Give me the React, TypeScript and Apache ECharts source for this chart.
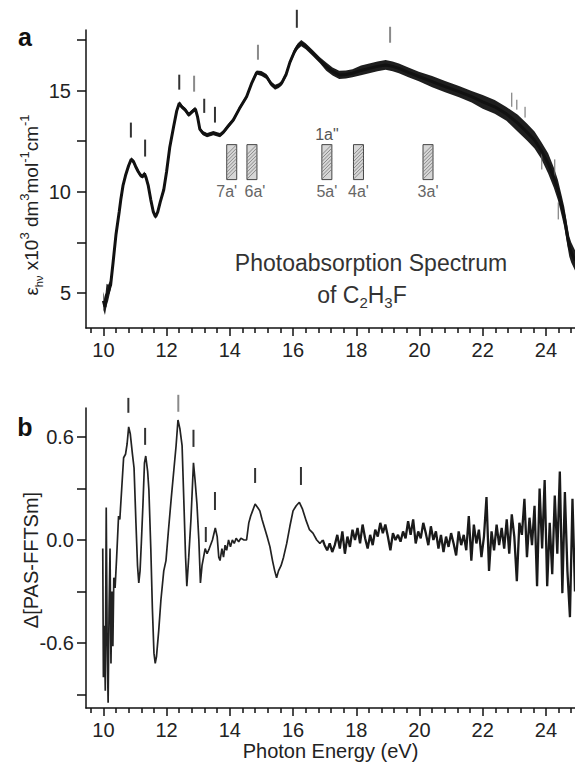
import React, { useEffect, useRef } from "react";
import * as echarts from "echarts";

// ---------- DATA ----------
// Panel a: [photon energy eV, epsilon x10^3, half-width of noise band]
const topSpectrum: number[][] = [
  [10.0, 4.6, 0.45], [10.05, 4.3, 0.4], [10.1, 4.9, 0.55], [10.15, 5.0, 0.4], [10.23, 5.4, 0.25],
  [10.3, 6.4, 0.12], [10.4, 7.9, 0.1], [10.5, 9.0, 0.1], [10.55, 9.6, 0.1], [10.62, 10.3, 0.1],
  [10.7, 10.8, 0.1], [10.8, 11.3, 0.1], [10.88, 11.6, 0.1], [10.95, 11.5, 0.1], [11.02, 11.25, 0.1],
  [11.1, 11.0, 0.1], [11.18, 10.8, 0.1], [11.25, 10.75, 0.1], [11.3, 10.9, 0.1], [11.35, 10.7, 0.1],
  [11.42, 10.3, 0.1], [11.5, 9.6, 0.1], [11.58, 9.0, 0.1], [11.65, 8.75, 0.1], [11.72, 9.0, 0.1],
  [11.8, 9.5, 0.1], [11.91, 10.1, 0.1], [12.0, 11.0, 0.1], [12.1, 12.2, 0.1], [12.22, 13.2, 0.1],
  [12.32, 14.0, 0.1], [12.4, 14.38, 0.1], [12.48, 14.2, 0.1], [12.59, 14.05, 0.1], [12.7, 13.8, 0.1],
  [12.8, 13.95, 0.1], [12.91, 14.1, 0.1], [12.98, 13.7, 0.1], [13.05, 13.1, 0.1], [13.15, 12.9, 0.1],
  [13.28, 12.8, 0.1], [13.38, 12.85, 0.1], [13.48, 12.9, 0.1], [13.58, 12.85, 0.1], [13.69, 12.8, 0.1],
  [13.8, 12.95, 0.1], [13.95, 13.25, 0.1], [14.11, 13.55, 0.1], [14.3, 14.1, 0.1], [14.53, 14.7, 0.1],
  [14.7, 15.4, 0.1], [14.85, 15.9, 0.1], [15.0, 15.85, 0.12], [15.16, 15.7, 0.12], [15.3, 15.35, 0.12],
  [15.43, 15.17, 0.12], [15.55, 15.25, 0.12], [15.64, 15.37, 0.12], [15.78, 15.8, 0.12], [15.9, 16.4, 0.12],
  [16.05, 16.95, 0.15], [16.15, 17.2, 0.15], [16.26, 17.35, 0.15], [16.4, 17.2, 0.15], [16.63, 16.85, 0.15],
  [16.85, 16.5, 0.15], [17.05, 16.19, 0.2], [17.25, 15.95, 0.2], [17.46, 15.78, 0.2], [17.67, 15.8, 0.2],
  [17.88, 15.86, 0.2], [18.15, 16.0, 0.24], [18.41, 16.1, 0.24], [18.67, 16.2, 0.24], [18.93, 16.27, 0.24],
  [19.15, 16.2, 0.24], [19.35, 16.1, 0.24], [19.65, 15.9, 0.24], [19.98, 15.7, 0.24], [20.4, 15.45, 0.28],
  [20.81, 15.2, 0.28], [21.25, 14.95, 0.28], [21.65, 14.7, 0.28], [22.0, 14.45, 0.34], [22.38, 14.2, 0.34],
  [22.75, 13.85, 0.34], [23.11, 13.39, 0.42], [23.4, 12.95, 0.42], [23.64, 12.56, 0.42], [23.85, 12.05, 0.42],
  [24.07, 11.4, 0.5], [24.25, 10.7, 0.5], [24.38, 10.08, 0.5], [24.5, 9.3, 0.5], [24.58, 8.76, 0.5],
  [24.66, 8.0, 0.5], [24.74, 7.28, 0.5], [24.8, 7.0, 0.5], [24.92, 6.6, 0.5],
];

// Panel a: isolated noise spikes [energy, low, high]
const topSpikes: number[][] = [
  [22.92, 14.2, 14.9], [23.08, 14.06, 14.55], [23.34, 13.67, 14.2], [23.87, 11.1, 11.94],
  [24.28, 10.6, 11.6], [24.39, 8.63, 9.47],
];

// Panel a: peak markers [energy, low, high]
const topMarkers: number[][] = [
  [10.87, 12.68, 13.42], [11.32, 11.74, 12.58], [12.4, 15.05, 15.79], [12.87, 14.95, 15.74],
  [13.19, 13.9, 14.6], [13.53, 13.42, 14.2], [14.89, 16.53, 17.27], [16.12, 18.11, 19.0],
  [19.07, 17.37, 18.16],
];

// Panel a: ionisation energy boxes [energy, low, high]
const orbitalBoxes: number[][] = [
  [14.06, 10.6, 12.33], [14.7, 10.6, 12.33], [17.07, 10.6, 12.33], [18.07, 10.6, 12.33], [20.27, 10.6, 12.33],
];
const orbitalLabels = ["7a'", "6a'", "5a'", "4a'", "3a'"];
const orbitalUpperLabels = ["", "", "1a\"", "", ""];

// Panel b: difference spectrum [energy, value]
const bottomSpectrum: number[][] = [
  [9.98, -0.05], [10.0, -0.8], [10.03, -0.5], [10.06, -0.88], [10.09, 0.19], [10.12, -0.6],
  [10.15, -0.95], [10.18, -0.4], [10.21, -0.05], [10.24, -0.72], [10.27, -0.3], [10.3, -0.62],
  [10.33, -0.22], [10.37, -0.28], [10.42, -0.1], [10.48, 0.14], [10.52, 0.12], [10.58, 0.3],
  [10.64, 0.48], [10.7, 0.5], [10.75, 0.56], [10.8, 0.66], [10.85, 0.62], [10.92, 0.5],
  [10.97, 0.42], [11.03, 0.1], [11.08, -0.15], [11.12, -0.25], [11.16, -0.18], [11.2, -0.02],
  [11.25, 0.2], [11.3, 0.45], [11.34, 0.49], [11.4, 0.4], [11.44, 0.29], [11.5, -0.05],
  [11.55, -0.4], [11.6, -0.66], [11.64, -0.72], [11.68, -0.68], [11.75, -0.53], [11.82, -0.35],
  [11.91, -0.18], [11.98, -0.12], [12.06, 0.06], [12.15, 0.25], [12.23, 0.41], [12.3, 0.55],
  [12.36, 0.7], [12.42, 0.65], [12.49, 0.55], [12.55, 0.2], [12.6, -0.1], [12.64, -0.27],
  [12.7, -0.1], [12.77, 0.12], [12.85, 0.45], [12.9, 0.35], [12.96, 0.21], [13.02, 0.0],
  [13.07, -0.25], [13.12, -0.15], [13.17, -0.1], [13.22, -0.05], [13.28, -0.08], [13.35, -0.05],
  [13.45, 0.0], [13.54, 0.07], [13.6, 0.02], [13.65, -0.1], [13.69, -0.12], [13.75, -0.05],
  [13.8, -0.1], [13.85, -0.03], [13.9, -0.06], [13.96, 0.0], [14.02, -0.04], [14.08, 0.0],
  [14.14, -0.02], [14.2, 0.01], [14.28, -0.01], [14.35, 0.01], [14.45, 0.0], [14.53, 0.0],
  [14.6, 0.1], [14.66, 0.14], [14.72, 0.17], [14.8, 0.21], [14.88, 0.19], [14.95, 0.17],
  [15.02, 0.12], [15.1, 0.07], [15.18, 0.02], [15.27, -0.04], [15.35, -0.12], [15.42, -0.18],
  [15.48, -0.22], [15.54, -0.18], [15.62, -0.15], [15.7, -0.1], [15.8, -0.02], [15.9, 0.08],
  [16.0, 0.17], [16.1, 0.2], [16.2, 0.22], [16.3, 0.18], [16.42, 0.11], [16.52, 0.06],
  [16.63, 0.04], [16.75, 0.0], [16.85, -0.02], [16.94, 0.0],
];

// Panel b: noisy tail [energy, value]
const bottomNoise: number[][] = [
  [16.94, 0.0],
  [17.0, -0.03], [17.08, -0.06], [17.16, -0.02], [17.24, -0.07], [17.32, -0.03], [17.4, 0.03],
  [17.48, -0.05], [17.56, 0.05], [17.64, -0.08], [17.72, 0.02], [17.8, -0.04], [17.88, 0.06],
  [17.96, 0.0], [18.04, 0.07], [18.12, -0.02], [18.2, 0.09], [18.28, 0.01], [18.36, -0.05],
  [18.44, 0.03], [18.52, -0.03], [18.6, 0.06], [18.68, 0.02], [18.76, 0.1], [18.84, 0.04],
  [18.92, 0.09], [19.0, 0.02], [19.08, -0.06], [19.16, 0.04], [19.24, 0.0], [19.32, 0.03],
  [19.4, -0.01], [19.48, 0.05], [19.56, 0.01], [19.64, 0.11], [19.72, 0.03], [19.8, 0.12],
  [19.88, -0.02], [19.96, 0.05], [20.04, 0.01], [20.12, 0.1], [20.2, 0.04], [20.28, -0.03],
  [20.36, 0.08], [20.44, 0.0], [20.52, 0.05], [20.6, -0.05], [20.68, 0.03], [20.76, -0.07],
  [20.84, 0.02], [20.92, -0.04], [21.0, 0.04], [21.08, -0.02], [21.16, -0.09], [21.24, 0.05],
  [21.32, -0.03], [21.4, 0.03], [21.48, -0.06], [21.56, 0.14], [21.64, -0.12], [21.72, 0.09],
  [21.8, -0.02], [21.88, 0.06], [21.96, -0.1], [22.04, 0.02], [22.12, 0.25], [22.2, -0.18],
  [22.28, 0.05], [22.36, -0.06], [22.44, 0.09], [22.52, -0.03], [22.6, 0.07], [22.68, -0.05],
  [22.76, 0.12], [22.84, -0.08], [22.92, 0.15], [23.0, 0.02], [23.08, -0.24], [23.16, 0.1],
  [23.24, 0.03], [23.32, 0.24], [23.4, -0.1], [23.48, 0.13], [23.56, -0.03], [23.64, 0.2],
  [23.72, -0.27], [23.8, 0.3], [23.88, -0.05], [23.96, 0.35], [24.04, -0.27], [24.12, 0.1],
  [24.2, -0.2], [24.28, 0.26], [24.36, -0.08], [24.44, 0.4], [24.52, -0.31], [24.6, 0.28],
  [24.68, -0.18], [24.76, -0.45], [24.84, 0.24], [24.92, -0.3],
];

// Panel b: peak markers [energy, low, high]
const bottomMarkers: number[][] = [
  [10.79, 0.742, 0.829], [11.32, 0.555, 0.654], [12.37, 0.748, 0.847], [12.85, 0.543, 0.643],
  [13.24, -0.012, 0.076], [13.53, 0.175, 0.28], [14.8, 0.333, 0.42], [16.25, 0.321, 0.426],
];

// Axis ticks and labels
const xMajorTicks = [10, 12, 14, 16, 18, 20, 22, 24];
const xMinorTicks = [
  9.6, 10.4, 10.8, 11.2, 11.6, 12.4, 12.8, 13.2, 13.6, 14.4, 14.8, 15.2, 15.6, 16.4, 16.8, 17.2,
  17.6, 18.4, 18.8, 19.2, 19.6, 20.4, 20.8, 21.2, 21.6, 22.4, 22.8, 23.2, 23.6, 24.4, 24.8,
];
const yTicksA = [5, 7.5, 10, 12.5, 15, 17.5];
const yLabelsA = [5, 10, 15];
const yTicksB = [-0.9, -0.6, -0.3, 0, 0.3, 0.6];
const yLabelsB = [-0.6, 0, 0.6];

// ---------- STYLE ----------
const FONT = "'Liberation Sans', Arial, sans-serif";
const X_MIN = 9.45;
const X_MAX = 24.92;
const INK = "#111";
const GREY_MARKERS_A = new Set([3, 6, 8]);
const GREY_MARKERS_B = new Set([2]);
const ORBITAL_LABEL_DX = [-5, 3, 0, 0, 0];

const axisLineStyle = { color: INK, width: 1.5 };

function xAxes(gridIndex: number, withName: boolean) {
  return [
    {
      type: "value",
      gridIndex,
      min: X_MIN,
      max: X_MAX,
      position: "bottom",
      axisLine: { show: true, onZero: false, lineStyle: axisLineStyle },
      axisTick: { show: true, customValues: xMajorTicks, length: 8, lineStyle: axisLineStyle },
      axisLabel: {
        show: true,
        customValues: xMajorTicks,
        margin: 12,
        fontSize: 20,
        fontFamily: FONT,
        color: "#222",
        formatter: (v: number) => String(v),
      },
      splitLine: { show: false },
      name: withName ? "Photon Energy (eV)" : "",
      nameLocation: "middle",
      nameGap: 32,
      nameTextStyle: { fontSize: 20, fontFamily: FONT, color: "#222" },
    },
    {
      type: "value",
      gridIndex,
      min: X_MIN,
      max: X_MAX,
      position: "bottom",
      axisLine: { show: false, onZero: false },
      axisTick: { show: true, customValues: xMinorTicks, length: 5, lineStyle: axisLineStyle },
      axisLabel: { show: false },
      splitLine: { show: false },
    },
  ];
}

function markerSeries(rows: number[][], xAxisIndex: number, yAxisIndex: number, grey: Set<number>) {
  return {
    type: "custom",
    xAxisIndex,
    yAxisIndex,
    clip: false,
    silent: true,
    data: rows,
    encode: { x: 0, y: [1, 2] },
    renderItem: (params: any, api: any) => {
      const p1 = api.coord([api.value(0), api.value(1)]);
      const p2 = api.coord([api.value(0), api.value(2)]);
      return {
        type: "line",
        shape: { x1: p1[0], y1: p1[1], x2: p2[0], y2: p2[1] },
        style: { stroke: grey.has(params.dataIndex) ? "#8a8a8a" : "#333", lineWidth: 2 },
      };
    },
  };
}

const App = () => {
  const ref = useRef<HTMLDivElement>(null);

  useEffect(() => {
    if (!ref.current) return;
    const chart = echarts.init(ref.current, null, { renderer: "svg" });

    const option: any = {
      animation: false,
      backgroundColor: "#fff",
      grid: [
        { left: 86, top: 30, width: 489, height: 298 },
        { left: 86, top: 408, width: 489, height: 300 },
      ],
      xAxis: [...xAxes(0, false), ...xAxes(1, true)],
      yAxis: [
        {
          type: "value",
          gridIndex: 0,
          min: 3.26,
          max: 18.0,
          axisLine: { show: true, onZero: false, lineStyle: axisLineStyle },
          axisTick: { show: true, customValues: yTicksA, length: 9, lineStyle: axisLineStyle },
          axisLabel: {
            customValues: yLabelsA,
            margin: 15,
            fontSize: 20,
            fontFamily: FONT,
            color: "#222",
            formatter: (v: number) => String(v),
          },
          splitLine: { show: false },
        },
        {
          type: "value",
          gridIndex: 1,
          min: -0.98,
          max: 0.77,
          axisLine: { show: true, onZero: false, lineStyle: axisLineStyle },
          axisTick: { show: true, customValues: yTicksB, length: 9, lineStyle: axisLineStyle },
          axisLabel: {
            customValues: yLabelsB,
            margin: 12,
            fontSize: 20,
            fontFamily: FONT,
            color: "#222",
            formatter: (v: number) => v.toFixed(1),
          },
          splitLine: { show: false },
        },
      ],
      series: [
        // noise band of panel a
        {
          type: "custom",
          xAxisIndex: 0,
          yAxisIndex: 0,
          silent: true,
          data: [[topSpectrum[0][0], topSpectrum[0][1]]],
          renderItem: (params: any, api: any) => {
            const upper = topSpectrum.map((r) => api.coord([r[0], r[1] + r[2]]));
            const lower = topSpectrum.map((r) => api.coord([r[0], r[1] - r[2]])).reverse();
            return {
              type: "polygon",
              shape: { points: upper.concat(lower) },
              style: { fill: "#1e1e1e" },
            };
          },
        },
        {
          type: "custom",
          xAxisIndex: 0,
          yAxisIndex: 0,
          silent: true,
          data: topSpikes,
          encode: { x: 0, y: [1, 2] },
          renderItem: (params: any, api: any) => {
            const p1 = api.coord([api.value(0), api.value(1)]);
            const p2 = api.coord([api.value(0), api.value(2)]);
            return {
              type: "line",
              shape: { x1: p1[0], y1: p1[1], x2: p2[0], y2: p2[1] },
              style: { stroke: "#666", lineWidth: 1 },
            };
          },
        },
        {
          type: "line",
          xAxisIndex: 0,
          yAxisIndex: 0,
          data: topSpectrum.map((r) => [r[0], r[1]]),
          showSymbol: false,
          symbol: "none",
          lineStyle: { color: INK, width: 3 },
          silent: true,
        },
        markerSeries(topMarkers, 0, 0, GREY_MARKERS_A),
        // orbital boxes
        {
          type: "custom",
          xAxisIndex: 0,
          yAxisIndex: 0,
          silent: true,
          data: orbitalBoxes,
          encode: { x: 0, y: [1, 2] },
          renderItem: (params: any, api: any) => {
            const top = api.coord([api.value(0), api.value(2)]);
            const bot = api.coord([api.value(0), api.value(1)]);
            const w = 10;
            const x0 = top[0] - w / 2;
            const y0 = top[1];
            const h = bot[1] - top[1];
            const children: any[] = [
              {
                type: "rect",
                shape: { x: x0, y: y0, width: w, height: h },
                style: { fill: "#d6d6d6", stroke: "#444", lineWidth: 1 },
              },
            ];
            for (let k = w; k <= h; k += 3.5) {
              children.push({
                type: "line",
                shape: { x1: x0, y1: y0 + k, x2: x0 + w, y2: y0 + k - w },
                style: { stroke: "#777", lineWidth: 0.8 },
              });
            }
            children.push({
              type: "text",
              x: top[0] + ORBITAL_LABEL_DX[params.dataIndex],
              y: bot[1] + 12,
              style: {
                text: orbitalLabels[params.dataIndex],
                fill: "#666",
                fontSize: 16,
                fontFamily: FONT,
                align: "center",
                verticalAlign: "middle",
              },
            });
            const up = orbitalUpperLabels[params.dataIndex];
            if (up) {
              children.push({
                type: "text",
                x: top[0],
                y: top[1] - 10,
                style: {
                  text: up,
                  fill: "#555",
                  fontSize: 16,
                  fontFamily: FONT,
                  align: "center",
                  verticalAlign: "middle",
                },
              });
            }
            return { type: "group", children };
          },
        },
        // panel b
        {
          type: "line",
          xAxisIndex: 2,
          yAxisIndex: 1,
          data: bottomSpectrum,
          showSymbol: false,
          symbol: "none",
          lineStyle: { color: "#222", width: 1.7 },
          silent: true,
        },
        {
          type: "line",
          xAxisIndex: 2,
          yAxisIndex: 1,
          data: bottomNoise,
          showSymbol: false,
          symbol: "none",
          lineStyle: { color: "#1a1a1a", width: 2.3 },
          silent: true,
        },
        markerSeries(bottomMarkers, 2, 1, GREY_MARKERS_B),
      ],
      graphic: [
        {
          type: "text",
          x: 25,
          y: 37,
          style: { text: "a", fontSize: 25, fontWeight: "bold", fontFamily: FONT, fill: "#111", align: "center", verticalAlign: "middle" },
        },
        {
          type: "text",
          x: 25,
          y: 427,
          style: { text: "b", fontSize: 25, fontWeight: "bold", fontFamily: FONT, fill: "#111", align: "center", verticalAlign: "middle" },
        },
        {
          type: "text",
          x: 31,
          y: 205,
          rotation: Math.PI / 2,
          style: {
            text: "{b|ε}{sub|hν}{b| x10}{sup|3}{b| dm}{sup|3}{b|mol}{sup|-1}{b|cm}{sup|-1}",
            align: "center",
            verticalAlign: "middle",
            fontSize: 19,
            fontFamily: FONT,
            fill: "#222",
            lineHeight: 26,
            rich: {
              b: { fontSize: 19, fontFamily: FONT, fill: "#222", lineHeight: 26 },
              sup: { fontSize: 13, fontFamily: FONT, fill: "#222", lineHeight: 14, verticalAlign: "top" },
              sub: { fontSize: 11, fontFamily: FONT, fill: "#222", lineHeight: 12, verticalAlign: "bottom" },
            },
          },
        },
        {
          type: "text",
          x: 31,
          y: 560,
          rotation: Math.PI / 2,
          style: {
            text: "Δ[PAS-FFTSm]",
            align: "center",
            verticalAlign: "middle",
            fontSize: 20,
            fontFamily: FONT,
            fill: "#222",
          },
        },
        {
          type: "text",
          x: 371,
          y: 263,
          style: {
            text: "Photoabsorption Spectrum",
            align: "center",
            verticalAlign: "middle",
            fontSize: 23,
            fontFamily: FONT,
            fill: "#333",
          },
        },
        {
          type: "text",
          x: 362,
          y: 295,
          style: {
            text: "{t|of C}{s|2}{t|H}{s|3}{t|F}",
            align: "center",
            verticalAlign: "middle",
            fontSize: 23,
            fontFamily: FONT,
            fill: "#333",
            lineHeight: 30,
            rich: {
              t: { fontSize: 23, fontFamily: FONT, fill: "#333", lineHeight: 30 },
              s: { fontSize: 15, fontFamily: FONT, fill: "#333", lineHeight: 14, verticalAlign: "bottom" },
            },
          },
        },
      ],
    };

    chart.setOption(option);
    return () => chart.dispose();
  }, []);

  return (
    <div
      ref={ref}
      style={{ position: "fixed", left: 0, top: 0, width: 575, height: 765, background: "#fff" }}
    />
  );
};

export default App;
